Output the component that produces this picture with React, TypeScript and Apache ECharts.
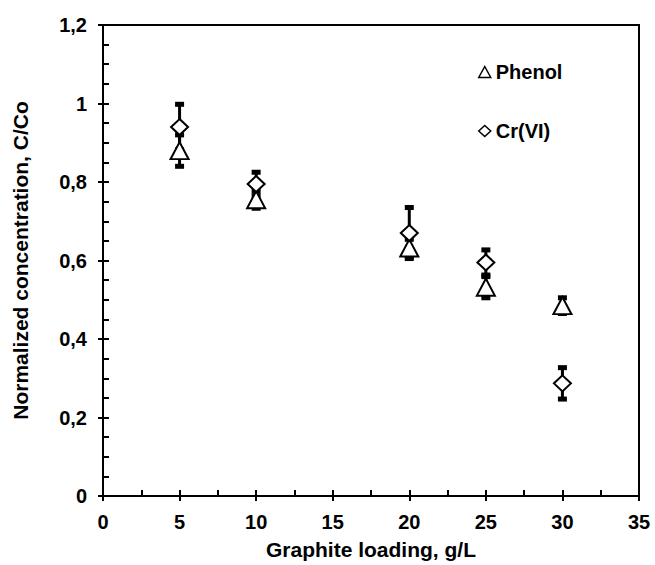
import React, { useEffect, useRef } from "react";
import * as echarts from "echarts";

const loadings = [5, 10, 20, 25, 30];
const phenol = [0.88, 0.755, 0.632, 0.532, 0.485];
const phenolErr = [0.04, 0.022, 0.022, 0.027, 0.02];
const crvi = [0.94, 0.795, 0.67, 0.595, 0.287];
const crviErr = [0.058, 0.03, 0.065, 0.032, 0.04];
const xTicks = [0, 5, 10, 15, 20, 25, 30, 35];
const yTicks = [0, 0.2, 0.4, 0.6, 0.8, 1.0, 1.2];

const FONT = "Liberation Sans, Arial, sans-serif";

function errData(vals: number[], errs: number[]) {
  return loadings.map((x, i) => [x, vals[i] - errs[i], vals[i] + errs[i]]);
}

function renderErr(params: any, api: any) {
  const x = api.value(0);
  const lo = api.coord([x, api.value(1)]);
  const hi = api.coord([x, api.value(2)]);
  const capW = 9;
  const capH = 5;
  return {
    type: "group",
    children: [
      {
        type: "line",
        shape: { x1: lo[0], y1: lo[1], x2: hi[0], y2: hi[1] },
        style: { stroke: "#000", lineWidth: 3 },
      },
      {
        type: "rect",
        shape: { x: lo[0] - capW / 2, y: lo[1] - capH / 2, width: capW, height: capH },
        style: { fill: "#000" },
      },
      {
        type: "rect",
        shape: { x: hi[0] - capW / 2, y: hi[1] - capH / 2, width: capW, height: capH },
        style: { fill: "#000" },
      },
    ],
  };
}

export default function App() {
  const ref = useRef<HTMLDivElement>(null);
  useEffect(() => {
    const chart = echarts.init(ref.current!, null, { renderer: "svg" });
    const tickStyle = { color: "#000", fontFamily: FONT, fontWeight: "bold" as const, fontSize: 20 };
    const nameStyle = { color: "#000", fontFamily: FONT, fontWeight: "bold" as const, fontSize: 21 };
    chart.setOption({
      animation: false,
      backgroundColor: "#fff",
      grid: {
        left: 103,
        right: 16,
        top: 25,
        bottom: 68,
        show: true,
        borderColor: "#000",
        borderWidth: 2,
        backgroundColor: "transparent",
      },
      legend: {
        orient: "vertical",
        left: 473,
        top: 57,
        itemWidth: 12,
        itemHeight: 11,
        itemGap: 39,
        data: ["Phenol", "Cr(VI)"],
        itemStyle: { borderWidth: 1.5 },
        textStyle: { ...tickStyle, fontSize: 20 },
      },
      xAxis: [
        {
          type: "value",
          min: 0,
          max: 35,
          interval: 5,
          position: "bottom",
          name: "Graphite loading, g/L",
          nameLocation: "middle",
          nameGap: 43,
          nameTextStyle: nameStyle,
          axisLine: { lineStyle: { color: "#000", width: 2 } },
          axisTick: { show: true, inside: false, length: 5, lineStyle: { color: "#000", width: 2 } },
          axisLabel: { ...tickStyle, margin: 16, formatter: (v: number) => (xTicks.includes(v) ? String(v) : "") },
          splitLine: { show: false },
        },
        {
          type: "value",
          min: 0,
          max: 35,
          interval: 2.5,
          position: "bottom",
          axisLine: { show: false },
          axisTick: { show: true, inside: true, length: 6, lineStyle: { color: "#000", width: 2 } },
          axisLabel: { show: false },
          splitLine: { show: false },
        },
      ],
      yAxis: [
        {
          type: "value",
          min: 0,
          max: 1.2,
          interval: 0.2,
          position: "left",
          name: "Normalized concentration, C/Co",
          nameLocation: "middle",
          nameGap: 72,
          nameTextStyle: nameStyle,
          axisLine: { lineStyle: { color: "#000", width: 2 } },
          axisTick: { show: true, inside: false, length: 5, lineStyle: { color: "#000", width: 2 } },
          axisLabel: {
            ...tickStyle,
            margin: 16,
            formatter: (v: number) => {
              const t = yTicks.find((k) => Math.abs(k - v) < 1e-9);
              if (t === undefined) return "";
              return String(Math.round(t * 10) / 10).replace(".", ",");
            },
          },
          splitLine: { show: false },
        },
        {
          type: "value",
          min: 0,
          max: 1.2,
          interval: 0.05,
          position: "left",
          offset: 0,
          axisLine: { show: false },
          axisTick: { show: true, inside: true, length: 6, lineStyle: { color: "#000", width: 2 } },
          axisLabel: { show: false },
          splitLine: { show: false },
        },
      ],
      series: [
        {
          name: "PhenolErr",
          type: "custom",
          renderItem: renderErr,
          data: errData(phenol, phenolErr),
          z: 1,
          silent: true,
        },
        {
          name: "CrErr",
          type: "custom",
          renderItem: renderErr,
          data: errData(crvi, crviErr),
          z: 1,
          silent: true,
        },
        {
          name: "Phenol",
          type: "scatter",
          symbol: "triangle",
          symbolSize: [18, 17],
          data: loadings.map((x, i) => [x, phenol[i]]),
          itemStyle: { color: "#fff", borderColor: "#000", borderWidth: 2, opacity: 1 },
          z: 3,
        },
        {
          name: "Cr(VI)",
          type: "scatter",
          symbol: "diamond",
          symbolSize: [17, 16],
          data: loadings.map((x, i) => [x, crvi[i]]),
          itemStyle: { color: "#fff", borderColor: "#000", borderWidth: 2, opacity: 1 },
          z: 4,
        },
      ],
    });
    return () => chart.dispose();
  }, []);
  return (
    <div
      ref={ref}
      style={{ position: "fixed", left: 0, top: 0, width: 655, height: 565 }}
    />
  );
}
